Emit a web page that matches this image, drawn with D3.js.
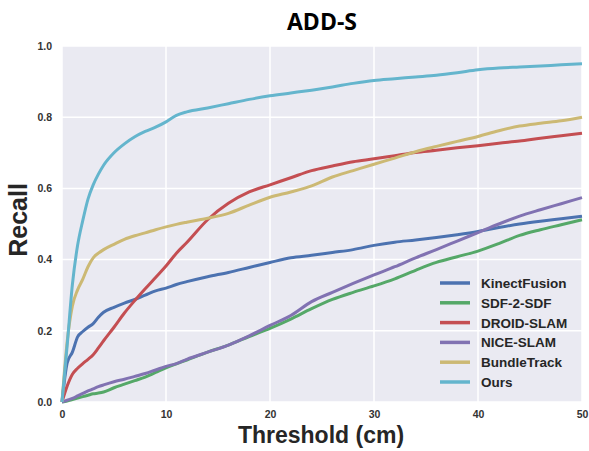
<!DOCTYPE html>
<html>
<head>
<meta charset="utf-8">
<title>ADD-S</title>
<script src="https://d3js.org/d3.v7.min.js"></script>
<style>
  body { margin: 0; background: #fff; }
  svg text { font-family: "Liberation Sans", Arial, sans-serif; }
</style>
</head>
<body>
<div id="chart"></div>
<script>
// threshold values (cm), shared by every method
var thresholds = [0, 0.5, 1, 1.5, 2, 2.5, 3, 3.5, 4, 5, 6, 7, 8, 9, 10, 11, 12, 14, 16, 18,
                  20, 22, 24, 26, 28, 30, 32, 34, 36, 38, 40, 42, 44, 46, 48, 50];

var methods = ["KinectFusion", "SDF-2-SDF", "DROID-SLAM", "NICE-SLAM", "BundleTrack", "Ours"];

var kinectFusion = [0, 0.11, 0.14, 0.183, 0.198, 0.21, 0.22, 0.238, 0.252, 0.266, 0.278, 0.288, 0.3, 0.312, 0.32, 0.33, 0.338, 0.352, 0.364, 0.378,
                    0.392, 0.405, 0.412, 0.42, 0.428, 0.44, 0.449, 0.455, 0.462, 0.47, 0.479, 0.49, 0.5, 0.508, 0.515, 0.522];
var sdf2sdf = [0, 0.003, 0.007, 0.011, 0.015, 0.019, 0.023, 0.025, 0.028, 0.04, 0.05, 0.06, 0.07, 0.083, 0.096, 0.107, 0.118, 0.14, 0.16, 0.184,
               0.207, 0.233, 0.262, 0.288, 0.308, 0.326, 0.346, 0.37, 0.392, 0.408, 0.424, 0.445, 0.468, 0.484, 0.498, 0.512];
var droidSlam = [0, 0.045, 0.078, 0.095, 0.108, 0.12, 0.133, 0.152, 0.172, 0.21, 0.25, 0.285, 0.318, 0.35, 0.382, 0.418, 0.448, 0.512, 0.558, 0.59,
                 0.61, 0.63, 0.65, 0.663, 0.675, 0.683, 0.692, 0.701, 0.707, 0.714, 0.72, 0.727, 0.733, 0.741, 0.748, 0.755];
var niceSlam = [0, 0.005, 0.01, 0.017, 0.024, 0.031, 0.037, 0.043, 0.048, 0.057, 0.064, 0.072, 0.08, 0.09, 0.1, 0.108, 0.12, 0.14, 0.16, 0.186,
                0.215, 0.243, 0.282, 0.308, 0.333, 0.357, 0.38, 0.405, 0.428, 0.452, 0.476, 0.5, 0.522, 0.54, 0.557, 0.574];
var bundleTrack = [0, 0.17, 0.27, 0.315, 0.345, 0.38, 0.405, 0.418, 0.428, 0.443, 0.457, 0.467, 0.475, 0.484, 0.492, 0.499, 0.505, 0.516, 0.53, 0.553,
                   0.575, 0.59, 0.607, 0.632, 0.65, 0.668, 0.685, 0.703, 0.718, 0.732, 0.746, 0.762, 0.775, 0.783, 0.79, 0.80];
var ours = [0, 0.16, 0.33, 0.44, 0.51, 0.57, 0.61, 0.64, 0.665, 0.70, 0.725, 0.745, 0.76, 0.772, 0.787, 0.805, 0.815, 0.826, 0.838, 0.85,
            0.86, 0.868, 0.876, 0.885, 0.895, 0.903, 0.908, 0.913, 0.918, 0.925, 0.933, 0.938, 0.941, 0.944, 0.947, 0.95];

var xTicks = [0, 10, 20, 30, 40, 50];
var yTicks = [0, 0.2, 0.4, 0.6, 0.8, 1.0];

var series = [kinectFusion, sdf2sdf, droidSlam, niceSlam, bundleTrack, ours];
var colors = ["#4C72B0", "#55A868", "#C44E52", "#8172B2", "#CCB974", "#64B5CD"];

var W = 589, H = 451;
var margin = {top: 46, right: 7, bottom: 49, left: 62};
var width = W - margin.left - margin.right,
    height = H - margin.top - margin.bottom;

var svg = d3.select("#chart").append("svg")
    .attr("width", W)
    .attr("height", H);

var g = svg.append("g")
    .attr("transform", "translate(" + margin.left + "," + margin.top + ")");

var x = d3.scaleLinear().domain([0, 50]).range([0, width]);
var y = d3.scaleLinear().domain([0, 1]).range([height, 0]);

// background
g.append("rect")
    .attr("width", width)
    .attr("height", height)
    .attr("fill", "#EAEAF2");

// grid
g.selectAll(".vgrid").data(xTicks).enter().append("line")
    .attr("x1", function(d) { return x(d); })
    .attr("x2", function(d) { return x(d); })
    .attr("y1", 0).attr("y2", height)
    .attr("stroke", "#fff").attr("stroke-width", 1.5);
g.selectAll(".hgrid").data(yTicks).enter().append("line")
    .attr("x1", 0).attr("x2", width)
    .attr("y1", function(d) { return y(d); })
    .attr("y2", function(d) { return y(d); })
    .attr("stroke", "#fff").attr("stroke-width", 1.5);

// axes (labels only, no tick marks)
var xAxis = g.append("g")
    .attr("transform", "translate(0," + height + ")")
    .call(d3.axisBottom(x).tickValues(xTicks).tickSize(0).tickPadding(9).tickFormat(d3.format("d")));
var yAxis = g.append("g")
    .call(d3.axisLeft(y).tickValues(yTicks).tickSize(0).tickPadding(10).tickFormat(d3.format(".1f")));
[xAxis, yAxis].forEach(function(a) {
    a.select(".domain").remove();
    a.selectAll("text")
        .attr("font-family", "Liberation Sans, Arial, sans-serif")
        .attr("font-size", "10.5px")
        .attr("font-weight", "bold")
        .attr("fill", "#333");
});

// lines
var line = d3.line()
    .x(function(d, i) { return x(thresholds[i]); })
    .y(function(d) { return y(d); })
    .curve(d3.curveMonotoneX);

series.forEach(function(s, i) {
    g.append("path")
        .datum(s)
        .attr("fill", "none")
        .attr("stroke", colors[i])
        .attr("stroke-width", 3)
        .attr("stroke-linejoin", "round")
        .attr("d", line);
});

// legend
var legend = svg.append("g").attr("transform", "translate(440,283)");
methods.forEach(function(m, i) {
    legend.append("line")
        .attr("x1", 0).attr("x2", 30)
        .attr("y1", i * 19.8).attr("y2", i * 19.8)
        .attr("stroke", colors[i]).attr("stroke-width", 3.5);
    legend.append("text")
        .attr("x", 41).attr("y", i * 19.8 + 5)
        .attr("font-size", "13.5px")
        .attr("font-weight", "bold")
        .attr("fill", "#262626")
        .text(m);
});

// titles
svg.append("text")
    .attr("x", 322).attr("y", 30)
    .attr("text-anchor", "middle")
    .attr("style", "font-family: 'Open Sans', sans-serif; font-size: 23px; font-weight: bold;")
    .attr("fill", "#000")
    .text("ADD-S");

svg.append("text")
    .attr("x", 321).attr("y", 443)
    .attr("text-anchor", "middle")
    .attr("font-size", "23px")
    .attr("font-weight", "bold")
    .attr("fill", "#262626")
    .text("Threshold (cm)");

svg.append("text")
    .attr("transform", "translate(27,220) rotate(-90)")
    .attr("text-anchor", "middle")
    .attr("font-size", "25px")
    .attr("font-weight", "bold")
    .attr("fill", "#262626")
    .text("Recall");
</script>
</body>
</html>
